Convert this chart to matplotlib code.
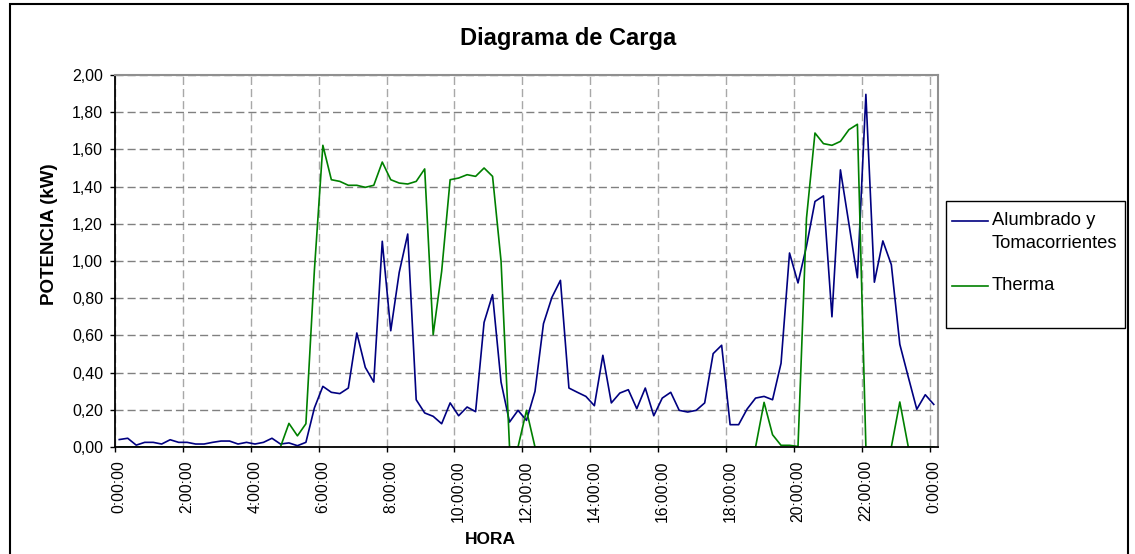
import numpy as np
import matplotlib
matplotlib.use('Agg')
import matplotlib.pyplot as plt
from matplotlib.patches import Rectangle
from matplotlib.lines import Line2D

plt.rcParams['font.family'] = ['Liberation Sans', 'DejaVu Sans']

# lecturas cada 15 minutos, de 0:00 a 24:00
horas = np.arange(97) * 0.25

alumbrado = [0.040, 0.047, 0.010, 0.025, 0.025, 0.016, 0.039, 0.025, 0.025, 0.016,
             0.016, 0.025, 0.032, 0.032, 0.016, 0.025, 0.016, 0.025, 0.047, 0.016,
             0.022, 0.007, 0.025, 0.210, 0.326, 0.294, 0.287, 0.317, 0.613, 0.428,
             0.349, 1.106, 0.625, 0.939, 1.145, 0.254, 0.183, 0.165, 0.125, 0.237,
             0.168, 0.215, 0.190, 0.670, 0.819, 0.349, 0.134, 0.197, 0.143, 0.299,
             0.663, 0.805, 0.896, 0.317, 0.294, 0.272, 0.222, 0.493, 0.237, 0.290,
             0.308, 0.206, 0.317, 0.168, 0.263, 0.294, 0.197, 0.188, 0.197, 0.237,
             0.502, 0.547, 0.120, 0.120, 0.204, 0.263, 0.272, 0.254, 0.450, 1.043,
             0.882, 1.080, 1.320, 1.350, 0.700, 1.490, 1.200, 0.910, 1.896, 0.886,
             1.108, 0.980, 0.552, 0.376, 0.203, 0.281, 0.229]

therma = [0, 0, 0, 0, 0, 0, 0, 0, 0, 0,
          0, 0, 0, 0, 0, 0, 0, 0, 0, 0,
          0.127, 0.060, 0.125, 0.950, 1.622, 1.437, 1.428, 1.407, 1.407, 1.396,
          1.407, 1.532, 1.437, 1.419, 1.414, 1.428, 1.495, 0.604, 0.944, 1.437,
          1.446, 1.464, 1.455, 1.500, 1.455, 1.000, 0, 0, 0.197, 0,
          0, 0, 0, 0, 0, 0, 0, 0, 0, 0,
          0, 0, 0, 0, 0, 0, 0, 0, 0, 0,
          0, 0, 0, 0, 0, 0, 0.240, 0.066, 0.009, 0.009,
          0.003, 1.230, 1.688, 1.631, 1.622, 1.643, 1.706, 1.735, 0, 0,
          0, 0, 0.242, 0, 0, 0, 0]

etiquetas = ['0:00:00', '2:00:00', '4:00:00', '6:00:00', '8:00:00', '10:00:00',
             '12:00:00', '14:00:00', '16:00:00', '18:00:00', '20:00:00',
             '22:00:00', '0:00:00']
pos_etiquetas = np.arange(0, 25, 2)

series = ['Alumbrado y\nTomacorrientes', 'Therma']
colores = ['#000080', '#008000']

W, H = 1135, 554
fig = plt.figure(figsize=(W / 100, H / 100), dpi=100)
ax = fig.add_axes([115 / W, 1 - 447 / H, (938 - 115) / W, (447 - 75) / H])

ax.plot(horas, alumbrado, color=colores[0], lw=1.2)
ax.plot(horas, therma, color=colores[1], lw=1.2)

# eje x tipo categoria: marcas en los bordes, etiquetas al centro
ax.set_xlim(-0.125, 24.125)
ax.set_xticks(pos_etiquetas)
ax.set_xticklabels(etiquetas, rotation=90, fontsize=11.3)
ax.set_xticks(pos_etiquetas - 0.125, minor=True)
ax.tick_params(axis='x', which='major', length=0, pad=9.5)
ax.tick_params(axis='x', which='minor', length=3.5, width=1, direction='out')

ax.set_ylim(0, 2)
yt = np.arange(0, 2.01, 0.2)
ax.set_yticks(yt)
ax.yaxis.set_major_formatter(plt.FuncFormatter(lambda v, p: ('%.2f' % v).replace('.', ',')))
ax.tick_params(axis='y', length=3.6, width=1, direction='out', pad=5, labelsize=11.5)

ax.grid(True, axis='y', which='major', color='#808080', lw=1.0, dashes=(5.8, 2.9))
ax.grid(True, axis='x', which='minor', color='#a8a8a8', lw=1.0, dashes=(5.8, 2.9))
ax.set_axisbelow(True)

for s in ['top', 'right']:
    ax.spines[s].set_color('#909090')
    ax.spines[s].set_linewidth(1.5)
for s in ['left', 'bottom']:
    ax.spines[s].set_color('black')
    ax.spines[s].set_linewidth(1.3)

fig.text(568 / W, 1 - 39 / H, 'Diagrama de Carga', ha='center', va='center',
         fontsize=17, fontweight='bold')
fig.text(50 / W, 1 - 234 / H, 'POTENCIA (kW)', ha='center', va='center',
         rotation=90, fontsize=13.5, fontweight='bold')
fig.text(490 / W, 1 - 540 / H, 'HORA', ha='center', va='center',
         fontsize=12.5, fontweight='bold')

# leyenda (estilo Excel: linea alineada con la primera linea del texto)
fig.patches.append(Rectangle((945.7 / W, 1 - 328 / H), (1125 - 945.7) / W, (328 - 200.7) / H,
                             transform=fig.transFigure, fill=False, ec='black', lw=1.0))
for nombre, color, y_px in zip(series, colores, [221, 286]):
    fig.add_artist(Line2D([952 / W, 988 / W], [1 - y_px / H, 1 - y_px / H],
                          transform=fig.transFigure, color=color, lw=1.2))
    fig.text(992 / W, 1 - (y_px - 9) / H, nombre, ha='left', va='top',
             fontsize=13.2, linespacing=1.5)

# borde del grafico
fig.patches.append(Rectangle((10 / W, -0.05), (1128 - 10) / W, 1.05 - 4 / H,
                             transform=fig.transFigure, fill=False, ec='black', lw=1.5))

fig.savefig('out.png', dpi=100)
